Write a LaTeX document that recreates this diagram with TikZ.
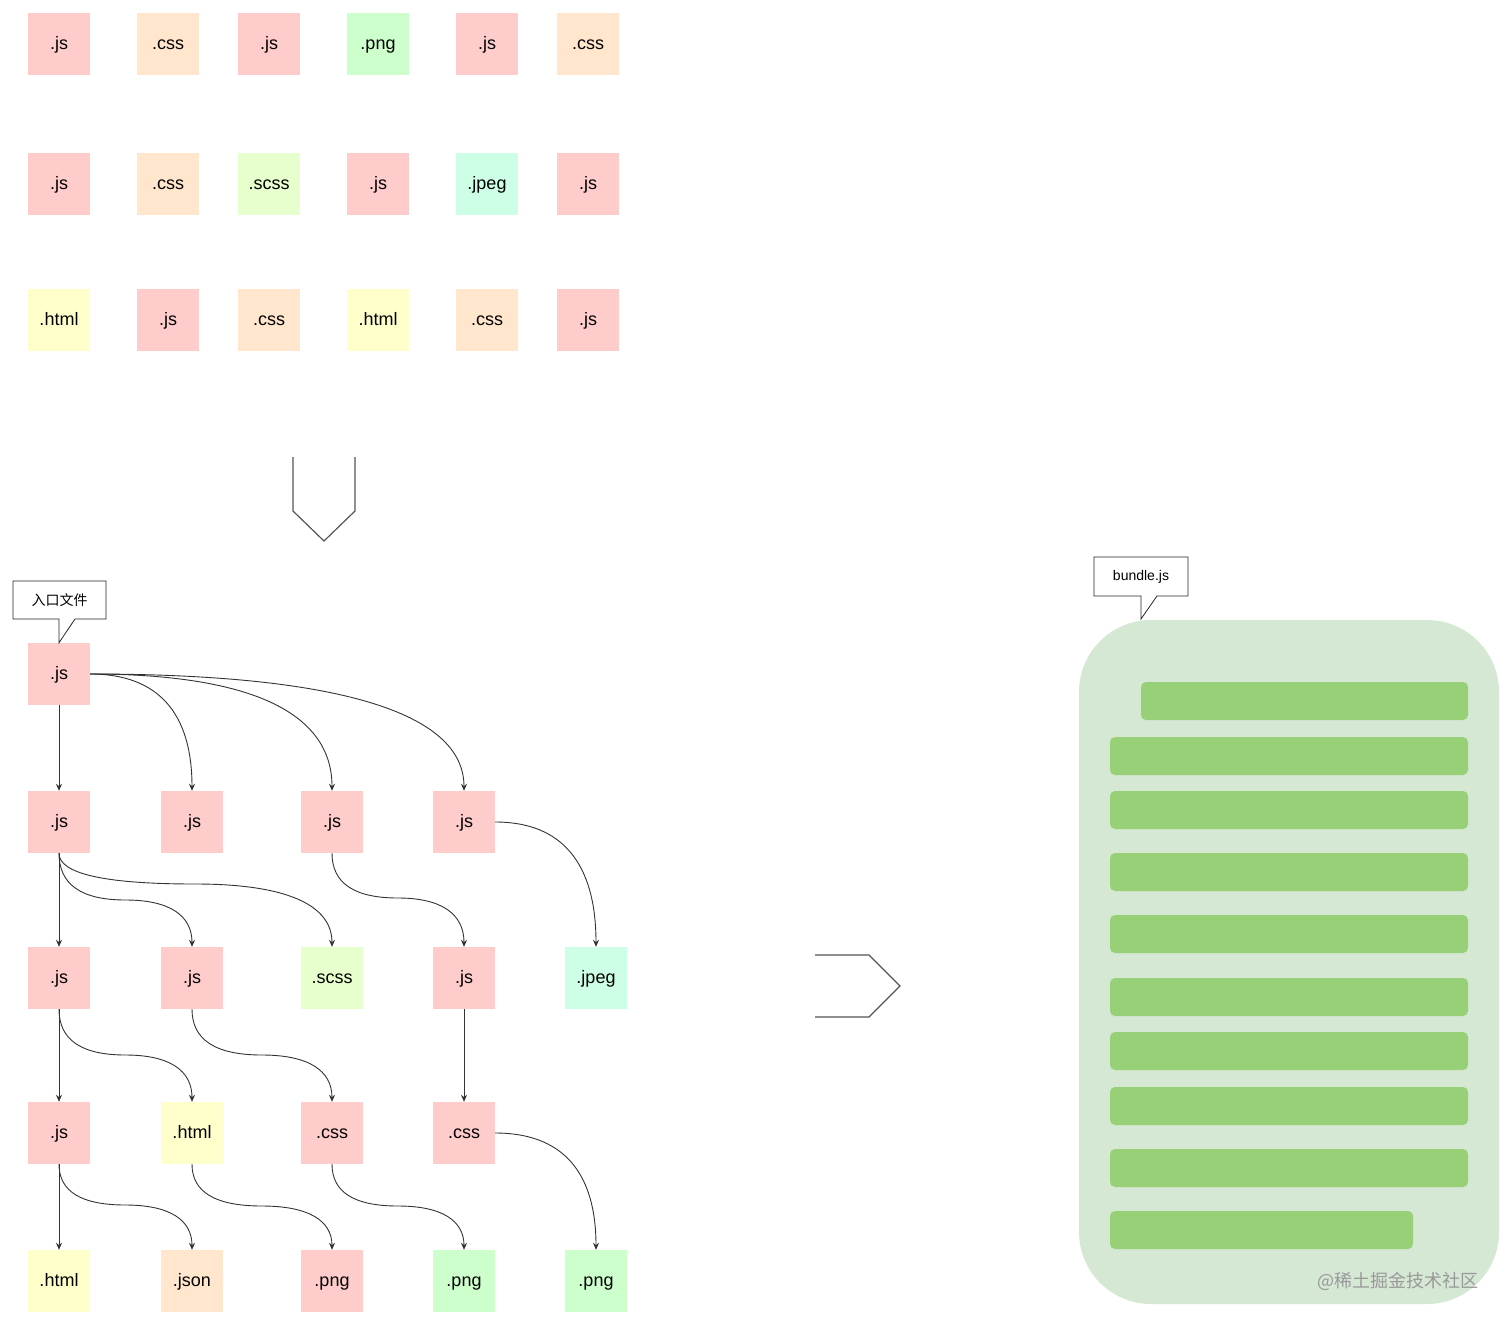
\documentclass[tikz,border=0pt]{standalone}
\usepackage{fontspec}
\setmainfont{Liberation Sans}
\newfontfamily\cjk{Noto Sans CJK SC}
\usetikzlibrary{arrows.meta,calc}
\definecolor{pk}{HTML}{FFCCCC}
\definecolor{orng}{HTML}{FFE6CC}
\definecolor{grn}{HTML}{CCFFCC}
\definecolor{lime}{HTML}{E6FFCC}
\definecolor{mint}{HTML}{CCFFE6}
\definecolor{ylw}{HTML}{FFFFCC}
\definecolor{bundlebg}{HTML}{D5E8D4}
\definecolor{barg}{HTML}{97D077}
\definecolor{edgec}{HTML}{333333}
\definecolor{outl}{HTML}{555555}
\newcommand\lcurve[2]{%
  \coordinate (qa) at (#1.east -| #2.north);
  \draw[arr] (#1.east) .. controls ($(#1.east)!2/3!(qa)$) and ($(#2.north)!2/3!(qa)$) .. (#2.north);}
\newcommand\scurve[3]{%
  \coordinate (qy) at (0,#3);
  \coordinate (qa) at (#1.south |- qy);
  \coordinate (qb) at (#2.north |- qy);
  \coordinate (qm) at ($(qa)!0.5!(qb)$);
  \draw[arr] (#1.south) .. controls ($(#1.south)!2/3!(qa)$) and ($(qm)!2/3!(qa)$) .. (qm)
    .. controls ($(qm)!2/3!(qb)$) and ($(#2.north)!2/3!(qb)$) .. (#2.north);}
\begin{document}
\begin{tikzpicture}[x=1pt,y=-1pt,
  file/.style={minimum width=62pt,minimum height=62pt,inner sep=0pt,text height=12pt,text depth=2pt,font=\fontsize{18}{21}\selectfont},
  fjs/.style={file,fill=pk},
  fcss/.style={file,fill=orng},
  fpng/.style={file,fill=grn},
  fscss/.style={file,fill=lime},
  fjpeg/.style={file,fill=mint},
  fhtml/.style={file,fill=ylw},
  arr/.style={draw=edgec,line width=0.9pt,-{Stealth[length=7pt,width=6pt]}},
  callout/.style={draw=black!85,line width=0.8pt,fill=white},
  calltext/.style={font=\fontsize{14}{16}\selectfont,inner sep=0pt},
  bigarrow/.style={draw=outl,line width=1.2pt},
  bar/.style={fill=barg,rounded corners=5pt}]
\useasboundingbox (0,0) rectangle (1512,1325);
% ---------- top grid ----------
\node[fjs]  (t11) at (59,44)  {.js};
\node[fcss] (t12) at (168,44) {.css};
\node[fjs]  (t13) at (269,44) {.js};
\node[fpng] (t14) at (378,44) {.png};
\node[fjs]  (t15) at (487,44) {.js};
\node[fcss] (t16) at (588,44) {.css};
\node[fjs]  (t21) at (59,184)  {.js};
\node[fcss] (t22) at (168,184) {.css};
\node[fscss](t23) at (269,184) {.scss};
\node[fjs]  (t24) at (378,184) {.js};
\node[fjpeg](t25) at (487,184) {.jpeg};
\node[fjs]  (t26) at (588,184) {.js};
\node[fhtml](t31) at (59,320)  {.html};
\node[fjs]  (t32) at (168,320) {.js};
\node[fcss] (t33) at (269,320) {.css};
\node[fhtml](t34) at (378,320) {.html};
\node[fcss] (t35) at (487,320) {.css};
\node[fjs]  (t36) at (588,320) {.js};
% ---------- down arrow ----------
\draw[bigarrow] (293,457) -- (293,511) -- (324,541) -- (355,511) -- (355,457);
% ---------- tree ----------
\node[fjs]  (r)  at (59,674) {.js};
\node[fjs]  (a1) at (59,822)  {.js};
\node[fjs]  (a2) at (192,822) {.js};
\node[fjs]  (a3) at (332,822) {.js};
\node[fjs]  (a4) at (464,822) {.js};
\node[fjs]  (b1) at (59,978)  {.js};
\node[fjs]  (b2) at (192,978) {.js};
\node[fscss](b3) at (332,978) {.scss};
\node[fjs]  (b4) at (464,978) {.js};
\node[fjpeg](b5) at (596,978) {.jpeg};
\node[fjs]  (c1) at (59,1133)  {.js};
\node[fhtml](c2) at (192,1133) {.html};
\node[fjs]  (c3) at (332,1133) {.css};
\node[fjs]  (c4) at (464,1133) {.css};
\node[fhtml](d1) at (59,1281)  {.html};
\node[fcss] (d2) at (192,1281) {.json};
\node[fjs]  (d3) at (332,1281) {.png};
\node[fpng] (d4) at (464,1281) {.png};
\node[fpng] (d5) at (596,1281) {.png};
% entry callout
\draw[callout] (13,581) -- (106,581) -- (106,619) -- (75,619) -- (r.north) -- (59,619) -- (13,619) -- cycle;
\node[calltext] (entry) at (59.5,600) {\cjk 入口文件};
% edges
\draw[arr] (r.south) -- (a1.north);
\lcurve{r}{a2}
\lcurve{r}{a3}
\lcurve{r}{a4}
\draw[arr] (a1.south) -- (b1.north);
\scurve{a1}{b2}{900}
\scurve{a1}{b3}{884}
\scurve{a3}{b4}{898}
\lcurve{a4}{b5}
\draw[arr] (b1.south) -- (c1.north);
\scurve{b1}{c2}{1055}
\scurve{b2}{c3}{1055}
\draw[arr] (b4.south) -- (c4.north);
\draw[arr] (c1.south) -- (d1.north);
\scurve{c1}{d2}{1205}
\scurve{c2}{d3}{1206}
\scurve{c3}{d4}{1206}
\lcurve{c4}{d5}
% ---------- right arrow ----------
\draw[bigarrow] (815,955) -- (869,955) -- (900,986) -- (869,1017) -- (815,1017);
% ---------- bundle ----------
\fill[bundlebg,rounded corners=72pt] (1079,620) rectangle (1499,1304);
\fill[bar] (1141,682) rectangle (1468,720);
\fill[bar] (1110,737) rectangle (1468,775);
\fill[bar] (1110,791) rectangle (1468,829);
\fill[bar] (1110,853) rectangle (1468,891);
\fill[bar] (1110,915) rectangle (1468,953);
\fill[bar] (1110,978) rectangle (1468,1016);
\fill[bar] (1110,1032) rectangle (1468,1070);
\fill[bar] (1110,1087) rectangle (1468,1125);
\fill[bar] (1110,1149) rectangle (1468,1187);
\fill[bar] (1110,1211) rectangle (1413,1249);
\draw[callout] (1094,557) -- (1188,557) -- (1188,596) -- (1157,596) -- (1141,619) -- (1141,596) -- (1094,596) -- cycle;
\node[calltext] (bundle) at (1141,577) {bundle.js};
\node[font=\cjk\fontsize{18}{20}\selectfont,text=black!40,inner sep=0pt] (wm) at (1398,1281) {@稀土掘金技术社区};
\end{tikzpicture}
\end{document}
